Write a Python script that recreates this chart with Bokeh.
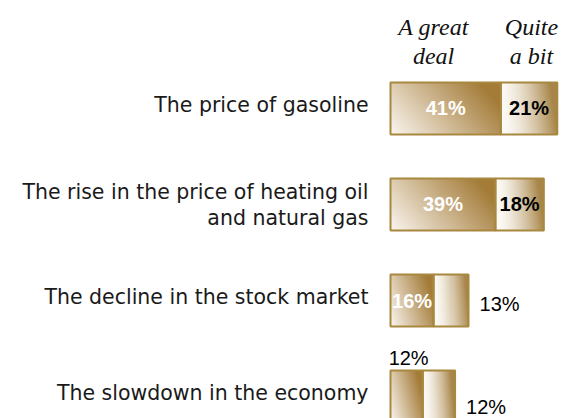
import numpy as np
from bokeh.plotting import figure
from bokeh.models import Range1d
from bokeh.core.properties import value
from bokeh.embed import file_html
from bokeh.resources import INLINE

# ---------------- data ----------------
categories = [
    "The price of gasoline",
    "The rise in the price of heating oil\nand natural gas",
    "The decline in the stock market",
    "The slowdown in the economy",
]
great_deal = [41, 39, 16, 12]
quite_a_bit = [21, 18, 13, 12]
series_headers = ["A great\ndeal", "Quite\na bit"]

# ---------------- layout / style ----------------
W, H = 564, 418
PX = 2.69          # pixels per percentage point
X0_PX = 390        # pixel position of value 0
ROW = 96           # pixels per row
Y0_PX = 108        # pixel centre of first row
BH = 52 / ROW      # bar height in row units
BORDER = "#a8873f"
LIGHT1, DARK1 = (247, 240, 231), (164, 124, 56)
LIGHT2, DARK2 = (254, 252, 248), (168, 133, 72)
HEAD_X = [16.0, 52.4]
BASE_FIX = -7      # pixel correction for alphabetic baseline placement

p = figure(width=W, height=H, output_backend="svg", toolbar_location=None,
           x_range=Range1d(-X0_PX / PX, (W - X0_PX) / PX),
           y_range=Range1d(-(H - Y0_PX) / ROW, Y0_PX / ROW),
           min_border=0)
p.axis.visible = False
p.grid.visible = False
p.outline_line_color = None
p.background_fill_color = "white"
p.border_fill_color = "white"


def gradient(nx, ny, light, dark, kind):
    u = np.linspace(0, 1, nx)[None, :]
    v = np.linspace(0, 1, ny)[:, None]   # row 0 = bottom
    if kind == 1:
        t = np.clip(0.85 * u + 0.35 * v - 0.05, 0, 1)
    else:
        t = np.clip(0.95 * u ** 1.6 + 0.25 * v * u, 0, 1)
    t = t[..., None]
    c = np.array(light)[None, None, :] * (1 - t) + np.array(dark)[None, None, :] * t
    img = np.empty((ny, nx), dtype=np.uint32)
    view = img.view(dtype=np.uint8).reshape((ny, nx, 4))
    view[..., :3] = c.astype(np.uint8)
    view[..., 3] = 255
    return img


ypos = [-i for i in range(len(categories))]
totals = [g + q for g, q in zip(great_deal, quite_a_bit)]

imgs, xs, ys, dws = [], [], [], []
for i, (g, q) in enumerate(zip(great_deal, quite_a_bit)):
    ny = int(BH * ROW)
    imgs.append(gradient(max(int(g * PX), 2), ny, LIGHT1, DARK1, 1))
    xs.append(0); ys.append(ypos[i] - BH / 2); dws.append(g)
    imgs.append(gradient(max(int(q * PX), 2), ny, LIGHT2, DARK2, 2))
    xs.append(g); ys.append(ypos[i] - BH / 2); dws.append(q)
p.image_rgba(image=imgs, x=xs, y=ys, dw=dws, dh=[BH] * len(imgs))

# borders
p.quad(left=[0] * 4, right=great_deal, top=[y + BH / 2 for y in ypos],
       bottom=[y - BH / 2 for y in ypos], fill_color=None,
       line_color=BORDER, line_width=2)
p.quad(left=great_deal, right=totals, top=[y + BH / 2 for y in ypos],
       bottom=[y - BH / 2 for y in ypos], fill_color=None,
       line_color=BORDER, line_width=2)

# category labels
for i, cat in enumerate(categories):
    lines = cat.split("\n")
    offs = [3] if len(lines) == 1 else [-6, 20]
    for ln, off in zip(lines, offs):
        p.text(x=[0], y=[ypos[i]], text=[ln], x_offset=-22,
               y_offset=off + BASE_FIX,
               text_font=value("DejaVu Sans"), text_font_size="20.5px",
               text_color="#1a1a1a", text_align="right",
               text_baseline="alphabetic")

# series headers
for hx, hdr in zip(HEAD_X, series_headers):
    for ln, off in zip(hdr.split("\n"), [-75, -46]):
        p.text(x=[hx], y=[ypos[0]], text=[ln], y_offset=off + BASE_FIX,
               text_font=value("Liberation Serif"), text_font_style="italic",
               text_font_size="24px", text_color="#111111",
               text_align="center", text_baseline="alphabetic")

# value labels
lbl = lambda v: f"{v}%"
# rows 0,1: both inside
for i in (0, 1):
    p.text(x=[great_deal[i] / 2], y=[ypos[i]], text=[lbl(great_deal[i])],
           y_offset=-1,
           text_font=value("Liberation Sans"), text_font_style="bold",
           text_font_size="20px", text_color="white", text_align="center",
           text_baseline="middle")
    p.text(x=[great_deal[i] + quite_a_bit[i] / 2], y=[ypos[i]],
           text=[lbl(quite_a_bit[i])], y_offset=-1,
           text_font=value("Liberation Sans"),
           text_font_style="bold", text_font_size="20px", text_color="black",
           text_align="center", text_baseline="middle")
# row 2
p.text(x=[great_deal[2] / 2], y=[ypos[2]], text=[lbl(great_deal[2])],
       text_font=value("Liberation Sans"), text_font_style="bold",
       text_font_size="20px", text_color="white", text_align="center",
       text_baseline="middle")
p.text(x=[totals[2]], y=[ypos[2]], text=[lbl(quite_a_bit[2])], x_offset=11,
       y_offset=3, text_font=value("Liberation Sans"), text_font_size="20px",
       text_color="black", text_align="left", text_baseline="middle")
# row 3
p.text(x=[great_deal[3] / 2], y=[ypos[3] + BH / 2], text=[lbl(great_deal[3])],
       x_offset=2, y_offset=-6 + BASE_FIX, text_font=value("Liberation Sans"),
       text_font_size="20px", text_color="black", text_align="center",
       text_baseline="alphabetic")
p.text(x=[totals[3]], y=[ypos[3]], text=[lbl(quite_a_bit[3])], x_offset=11,
       y_offset=17 + BASE_FIX, text_font=value("Liberation Sans"),
       text_font_size="20px", text_color="black", text_align="left",
       text_baseline="alphabetic")

open("out.html", "w").write(file_html(p, INLINE))
